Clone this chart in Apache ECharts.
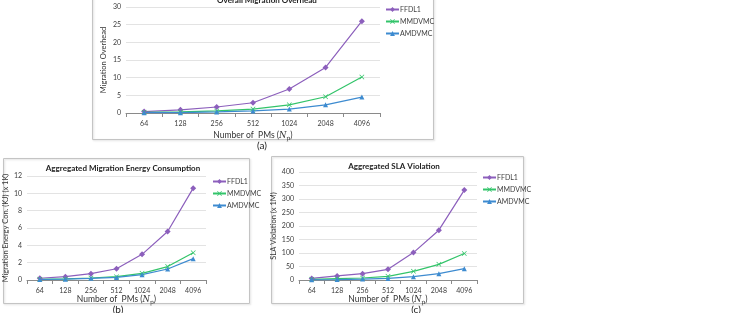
<!DOCTYPE html>
<html><head><meta charset="utf-8">
<script src="https://cdn.jsdelivr.net/npm/echarts@6/dist/echarts.min.js"></script>
<style>html,body{margin:0;padding:0;background:#fff}#c{width:741px;height:313px}</style>
</head><body><div id="c"></div>
<script>
var categories = ['64','128','256','512','1024','2048','4096'];
var seriesNames = ['FFDL1','MMDVMC','AMDVMC'];
// (a) Overall Migration Overhead
var overheadFFDL1 = [0.4, 0.9, 1.7, 2.9, 6.8, 12.9, 26.0];
var overheadMMDVMC = [0.2, 0.3, 0.6, 1.1, 2.3, 4.6, 10.2];
var overheadAMDVMC = [0.1, 0.1, 0.3, 0.6, 1.1, 2.3, 4.5];
// (b) Aggregated Migration Energy Consumption
var energyFFDL1 = [0.2, 0.38, 0.73, 1.3, 2.96, 5.6, 10.6];
var energyMMDVMC = [0.08, 0.12, 0.23, 0.38, 0.77, 1.55, 3.15];
var energyAMDVMC = [0.06, 0.1, 0.19, 0.3, 0.62, 1.27, 2.46];
// (c) Aggregated SLA Violation
var slaFFDL1 = [6, 15, 23.5, 39.6, 101.5, 184.5, 333];
var slaMMDVMC = [2.5, 5, 7.4, 13.6, 32, 58, 98];
var slaAMDVMC = [0.5, 1.5, 3.5, 6, 12.4, 23.5, 42];

var colors = ['#8c5fbc', '#33c46a', '#3d8bd0'];
var crossPath = 'path://M0,1L1,0L5,4L9,0L10,1L6,5L10,9L9,10L5,6L1,10L0,9L4,5Z';
var symbols = ['diamond', crossPath, 'triangle'];
var FF = 'Lato, "Open Sans", sans-serif';

function mkSeries(idx, arrs) {
  return arrs.map(function (d, i) {
    return {
      name: seriesNames[i], type: 'line', xAxisIndex: idx, yAxisIndex: idx,
      data: d, symbol: symbols[i], symbolSize: i === 0 ? 6 : 5, showSymbol: true,
      lineStyle: { color: colors[i], width: 1.2 },
      itemStyle: { color: colors[i] }, animation: false
    };
  });
}
var grids = [
  { left: 126, top: 7, width: 254, height: 106 },
  { left: 27, top: 176, width: 179, height: 104 },
  { left: 299, top: 172, width: 178, height: 108 }
];
var yCfg = [
  { max: 30, interval: 5, name: 'Migration Overhead', gap: 18 },
  { max: 12, interval: 2, name: 'Migration Energy Con. (KJ) (x 1K)', gap: 14 },
  { max: 400, interval: 50, name: 'SLA Violation (x 1M)', gap: 18 }
];
var xName = 'Number of  PMs ({it|N}{sub|p})';
var xAxes = grids.map(function (g, i) {
  return {
    type: 'category', gridIndex: i, data: categories, boundaryGap: true,
    axisLine: { lineStyle: { color: '#8a8a8a', width: 1 } },
    axisTick: { show: true, alignWithLabel: false, length: 4, lineStyle: { color: '#8a8a8a' } },
    axisLabel: { fontSize: 7, color: '#404040', fontFamily: FF, margin: 7 },
    name: xName, nameLocation: 'middle', nameGap: i === 0 ? 17 : 14,
    nameTextStyle: { fontSize: 8.5, color: '#333', fontFamily: FF,
      rich: { it: { fontStyle: 'italic', fontSize: 8.5, fontFamily: 'DejaVu Serif', color: '#333' },
              sub: { fontSize: 6, fontFamily: 'DejaVu Serif', color: '#333', padding: [5, 0, 0, 0] } } }
  };
});
var yAxes = yCfg.map(function (c, i) {
  return {
    type: 'value', gridIndex: i, min: 0, max: c.max, interval: c.interval,
    axisLine: { show: false }, axisTick: { show: false },
    splitLine: { lineStyle: { color: '#e3e3e3', width: 1 } },
    axisLabel: { fontSize: 7, color: '#404040', fontFamily: FF, margin: 5 },
    name: c.name, nameLocation: 'middle', nameGap: c.gap, nameRotate: 90,
    nameTextStyle: { fontSize: 7.5, color: '#333', fontFamily: FF }
  };
});
var legendPos = [
  { left: 380, top: 1 }, { left: 207, top: 173 }, { left: 477, top: 169 }
];
var legends = legendPos.map(function (p) {
  return {
    data: seriesNames, orient: 'vertical', left: p.left, top: p.top,
    itemWidth: 13, itemHeight: 6, itemGap: 5, selectedMode: false,
    textStyle: { fontSize: 7, color: '#404040', fontFamily: FF, padding: [0, 0, 0, -4] }
  };
});
var titles = [
  { text: 'Overall Migration Overhead', left: 262, top: -9, textAlign: 'center' },
  { text: 'Aggregated Migration Energy Consumption', left: 118, top: 159, textAlign: 'center' },
  { text: 'Aggregated SLA Violation', left: 389, top: 157, textAlign: 'center' }
].map(function (t) {
  t.textStyle = { fontSize: 8, fontWeight: 'bold', color: '#222', fontFamily: FF };
  return t;
});
var frame = function (x, y, w, h) {
  return { type: 'rect', shape: { x: x + 0.5, y: y + 0.5, width: w, height: h },
    style: { fill: 'none', stroke: '#c4c4c4', lineWidth: 1, shadowColor: 'rgba(0,0,0,0.15)', shadowBlur: 2, shadowOffsetX: 1, shadowOffsetY: 1 } };
};
var lab = function (t, x, y) {
  return { type: 'text', x: x, y: y, style: { text: t, fontSize: 10, fill: '#222', fontFamily: FF, textAlign: 'center', textVerticalAlign: 'middle' } };
};
var chart = echarts.init(document.getElementById('c'), null, { renderer: 'canvas' });
chart.setOption({
  animation: false,
  title: titles,
  grid: grids,
  xAxis: xAxes,
  yAxis: yAxes,
  legend: legends,
  graphic: [
    frame(92, -5, 341, 144), frame(3, 158, 246, 145), frame(271, 156, 252, 147),
    lab('(a)', 262, 146), lab('(b)', 118, 310), lab('(c)', 416, 310)
  ],
  series: [].concat(
    mkSeries(0, [overheadFFDL1, overheadMMDVMC, overheadAMDVMC]),
    mkSeries(1, [energyFFDL1, energyMMDVMC, energyAMDVMC]),
    mkSeries(2, [slaFFDL1, slaMMDVMC, slaAMDVMC])
  )
});
</script></body></html>
